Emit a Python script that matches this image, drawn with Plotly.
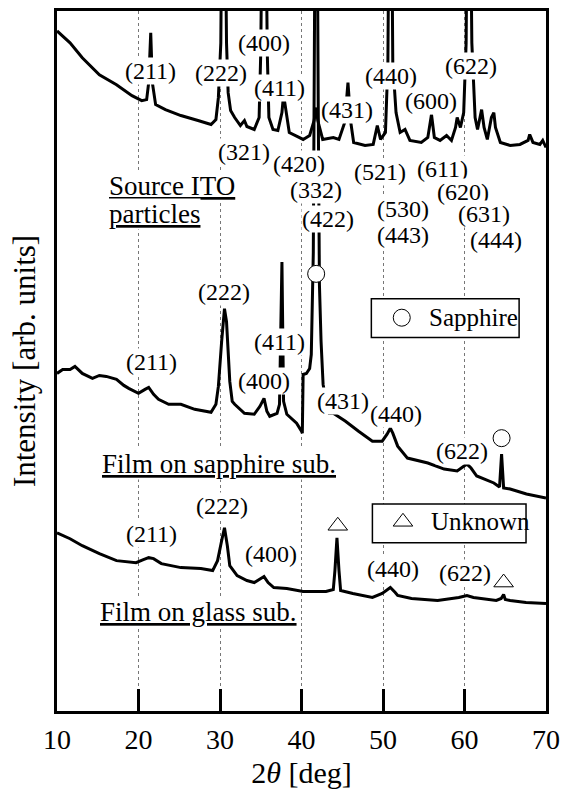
import plotly.graph_objects as go

# ---------------- data (2theta [deg], intensity [arb. units]) ----------------
src_tt = [10.0, 11.6, 13.1, 15.2, 17.3, 19.2, 20.4, 21.0, 21.25, 21.5, 21.7, 22.1, 23.3, 25.2, 27.3,
          28.9, 29.5, 29.8, 30.1, 30.4, 30.8, 31.0, 31.3, 31.8, 32.5, 33.0, 33.3, 34.2, 34.8, 35.0,
          35.4, 35.8, 36.0, 36.5, 37.1, 37.6, 37.8, 38.1, 38.5, 39.7, 40.2, 41.0, 41.55, 41.8, 42.0,
          42.6, 43.9, 44.6, 45.3, 45.7, 46.05, 46.4, 47.8, 48.8, 49.3, 49.7, 50.3, 50.6, 50.9, 51.2,
          51.6, 52.1, 52.7, 53.3, 54.7, 55.5, 55.95, 56.3, 57.0, 57.8, 58.4, 58.9, 59.1, 59.5, 59.9,
          60.2, 60.5, 60.9, 61.3, 61.6, 62.0, 62.1, 62.4, 62.8, 63.3, 63.6, 63.8, 64.4, 65.6, 66.8,
          67.8, 68.0, 68.4, 69.25, 69.6, 70.0]
src_int = [683, 671, 656, 639, 629, 618, 613, 614, 631, 681, 631, 609, 604, 598, 593,
           589, 594, 616, 671, 1000, 671, 621, 603, 596, 588, 593, 587, 584, 596, 661,
           1000, 661, 596, 584, 583, 601, 619, 601, 581, 576, 574, 578, 593, 606, 593,
           574, 576, 574, 591, 631, 591, 571, 568, 569, 588, 574, 581, 651, 1000, 651,
           601, 581, 584, 573, 571, 576, 599, 576, 573, 578, 573, 586, 596, 586, 601,
           671, 1000, 671, 596, 584, 601, 604, 586, 574, 596, 601, 586, 571, 568, 569,
           573, 579, 571, 569, 573, 566]

sap_tt = [10.0, 10.7, 11.6, 12.2, 13.1, 14.35, 15.2, 16.05, 17.3, 18.2, 18.8, 20.0, 20.8, 21.25,
          21.85, 22.45, 23.7, 25.2, 26.9, 28.1, 28.9, 29.5, 29.8, 30.2, 30.55, 30.8, 31.2, 31.5,
          31.8, 33.0, 34.2, 34.9, 35.4, 35.75, 36.1, 37.0, 37.3, 37.6, 37.8, 38.2, 38.8, 39.4,
          40.0, 40.1, 40.2, 40.6, 41.0, 41.2, 41.45, 41.6, 41.8, 42.05, 42.2, 42.4, 42.65, 43.0,
          43.4, 43.9, 45.4, 47.0, 48.7, 49.9, 50.5, 50.9, 51.2, 51.8, 53.0, 55.5, 57.5, 59.1,
          59.9, 60.3, 60.8, 61.5, 63.6, 64.3, 64.55, 64.8, 65.6, 67.6, 70.0]
sap_int = [339, 343, 343, 346, 339, 334, 337, 336, 333, 327, 324, 319, 323, 325,
           318, 313, 308, 308, 303, 301, 300, 308, 326, 371, 404, 391, 331, 311,
           308, 299, 298, 306, 314, 301, 296, 299, 308, 451, 311, 298, 293, 289,
           281, 279, 338, 339, 344, 358, 461, 611, 1011, 611, 428, 371, 328, 311,
           299, 299, 291, 281, 271, 271, 278, 284, 279, 266, 254, 249, 243, 241,
           246, 248, 244, 236, 229, 225, 258, 224, 223, 218, 214]

gls_tt = [10.0, 11.6, 13.1, 15.2, 17.3, 19.7, 20.6, 21.25, 21.85, 22.8, 25.2, 27.65, 29.1, 29.7,
          30.2, 30.55, 30.9, 31.2, 32.1, 33.3, 34.2, 34.9, 35.4, 35.9, 36.6, 38.2, 40.2, 43.0,
          43.9, 44.1, 44.35, 44.6, 44.8, 46.3, 48.7, 49.9, 50.9, 51.5, 51.8, 53.5, 56.7, 59.3,
          60.3, 61.1, 62.0, 63.9, 64.5, 64.8, 65.0, 65.6, 67.55, 70.0]
gls_int = [179, 173, 166, 158, 151, 149, 152, 154, 153, 148, 144, 143, 141, 151,
           171, 184, 166, 146, 136, 131, 129, 133, 135, 129, 124, 123, 120, 120,
           122, 141, 174, 141, 121, 118, 114, 118, 124, 119, 116, 113, 111, 114,
           116, 114, 113, 111, 113, 117, 112, 111, 109, 108]

# peak labels: (text, 2theta, intensity)
src_labels = [("(211)", 21.5, 643), ("(222)", 30.1, 641), ("(400)", 35.4, 671), ("(411)", 37.3, 626),
              ("(431)", 45.55, 604), ("(440)", 51.0, 638), ("(600)", 55.95, 613), ("(622)", 60.8, 648),
              ("(321)", 33.0, 561), ("(420)", 39.75, 549), ("(332)", 41.8, 523), ("(422)", 43.25, 494),
              ("(521)", 49.65, 541), ("(530)", 52.45, 504), ("(443)", 52.45, 478), ("(611)", 57.3, 544),
              ("(620)", 59.8, 521), ("(631)", 62.35, 499), ("(444)", 63.9, 473)]
sap_labels = [("(211)", 21.6, 351), ("(222)", 30.55, 421), ("(400)", 35.4, 331), ("(411)", 37.3, 371),
              ("(431)", 45.05, 311), ("(440)", 51.6, 298), ("(622)", 59.7, 261)]
gls_labels = [("(211)", 21.6, 178), ("(222)", 30.2, 206), ("(400)", 36.25, 158),
              ("(440)", 51.25, 143), ("(622)", 60.05, 139)]

sapphire_marks_tt = [41.8, 64.55]
sapphire_marks_int = [439, 274]
unknown_marks_tt = [44.45, 64.8]
unknown_marks_int = [186, 129]

sample_names = ["Source ITO", "particles", "Film on sapphire sub.", "Film on glass sub."]
x_ticks = [10, 20, 30, 40, 50, 60, 70]

FONT = "Liberation Serif, Times New Roman, serif"

fig = go.Figure()
for tt, it in [(src_tt, src_int), (sap_tt, sap_int), (gls_tt, gls_int)]:
    fig.add_trace(go.Scatter(x=tt, y=it, mode="lines", line=dict(color="black", width=3),
                             hoverinfo="skip", showlegend=False))

# legend boxes (white, masking grid)
fig.add_shape(type="rect", x0=48.57, x1=66.7, y0=375, y1=414, xref="x", yref="y",
              line=dict(color="black", width=1.5), fillcolor="white", layer="between")
fig.add_shape(type="rect", x0=48.7, x1=67.55, y0=169, y1=208, xref="x", yref="y",
              line=dict(color="black", width=1.5), fillcolor="white", layer="between")

# sapphire / unknown markers
fig.add_trace(go.Scatter(x=sapphire_marks_tt + [52.3], y=sapphire_marks_int + [395], mode="markers",
                         marker=dict(symbol="circle", size=17, color="white",
                                     line=dict(color="black", width=1)),
                         hoverinfo="skip", showlegend=False))
fig.add_trace(go.Scatter(x=unknown_marks_tt + [52.45], y=unknown_marks_int + [190], mode="markers",
                         marker=dict(symbol="triangle-up", size=17, color="white",
                                     line=dict(color="black", width=1)),
                         hoverinfo="skip", showlegend=False))

def lab(text, x, y, size=24, xanchor="center"):
    fig.add_annotation(x=x, y=y, text=text, showarrow=False, xref="x", yref="y",
                       xanchor=xanchor, yanchor="middle", bgcolor="white", borderpad=0,
                       font=dict(family=FONT, size=size, color="black"))

for t, x, y in src_labels + sap_labels + gls_labels:
    lab(t, x, y)

lab("<u>" + sample_names[0] + "</u>", 16.2, 527, size=27, xanchor="left")
lab("<u>" + sample_names[1] + "</u>", 16.2, 499, size=27, xanchor="left")
lab("<u>" + sample_names[2] + "</u>", 15.45, 248, size=27, xanchor="left")
lab("<u>" + sample_names[3] + "</u>", 15.2, 99, size=27, xanchor="left")
fig.add_annotation(x=55.45, y=395, text="Sapphire", showarrow=False, xanchor="left",
                   font=dict(family=FONT, size=25, color="black"))
fig.add_annotation(x=55.7, y=190, text="Unknown", showarrow=False, xanchor="left",
                   font=dict(family=FONT, size=25, color="black"))

fig.update_layout(
    width=568, height=796,
    margin=dict(l=57, r=15, t=8, b=85),
    paper_bgcolor="white", plot_bgcolor="white",
    font=dict(family=FONT, color="black"),
    xaxis=dict(range=[10, 70], tickvals=x_ticks, ticks="inside", ticklen=22, tickwidth=2.5,
               tickcolor="black", showline=True, linewidth=2.5, linecolor="black", mirror=True,
               showgrid=True, gridcolor="#777", griddash="dot", gridwidth=1, zeroline=False,
               tickfont=dict(family=FONT, size=28), ticklabelstandoff=2,
               title=dict(text="2<i>θ</i> [deg]", font=dict(family=FONT, size=30), standoff=8)),
    yaxis=dict(range=[0, 703], showticklabels=False, ticks="", showgrid=False, zeroline=False,
               showline=True, linewidth=2.5, linecolor="black", mirror=True,
               title=dict(text="Intensity [arb. units]", font=dict(family=FONT, size=31), standoff=10)),
)

fig.write_html("out.html")
